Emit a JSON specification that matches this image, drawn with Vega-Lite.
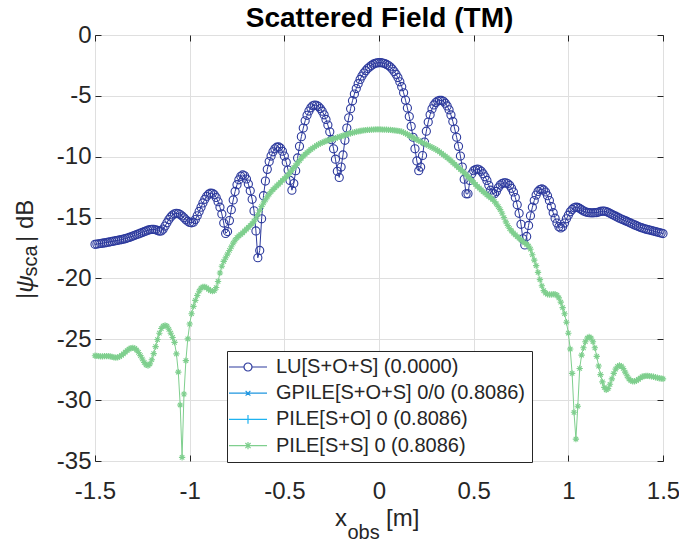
{
  "$schema": "https://vega.github.io/schema/vega-lite/v6.json",
  "autosize": {"type": "none"},
  "padding": {"left": 95, "top": 35, "right": 16, "bottom": 81},
  "width": 568,
  "height": 426,
  "background": "white",
  "config": {
    "view": {"stroke": "#262626", "strokeWidth": 1},
    "font": "Liberation Sans",
    "axis": {"labelFont": "Liberation Sans", "labelColor": "#262626", "labelFontSize": 24, "titleFont": "Liberation Sans", "titleColor": "#262626", "titleFontSize": 24, "titleFontWeight": "normal", "tickColor": "#262626", "gridColor": "#dfdfdf", "gridWidth": 1, "domain": false, "labelFlush": false, "labelOverlap": false}
  },
  "datasets": {
    "lu": [
{"x":-1.5,"y":-17.2},{"x":-1.49,"y":-17.18},{"x":-1.48,"y":-17.15},{"x":-1.47,"y":-17.13},{"x":-1.46,"y":-17.1},{"x":-1.45,"y":-17.08},{"x":-1.44,"y":-17.05},{"x":-1.43,"y":-17.02},{"x":-1.42,"y":-16.99},{"x":-1.41,"y":-16.96},
{"x":-1.4,"y":-16.93},{"x":-1.39,"y":-16.9},{"x":-1.38,"y":-16.87},{"x":-1.37,"y":-16.84},{"x":-1.36,"y":-16.81},{"x":-1.35,"y":-16.77},{"x":-1.34,"y":-16.73},{"x":-1.33,"y":-16.68},{"x":-1.32,"y":-16.63},{"x":-1.31,"y":-16.58},
{"x":-1.3,"y":-16.52},{"x":-1.29,"y":-16.46},{"x":-1.28,"y":-16.4},{"x":-1.27,"y":-16.34},{"x":-1.26,"y":-16.28},{"x":-1.25,"y":-16.22},{"x":-1.24,"y":-16.16},{"x":-1.23,"y":-16.1},{"x":-1.22,"y":-16.04},{"x":-1.21,"y":-15.99},
{"x":-1.2,"y":-15.97},{"x":-1.19,"y":-15.97},{"x":-1.18,"y":-16.0},{"x":-1.17,"y":-16.06},{"x":-1.16,"y":-16.12},{"x":-1.15,"y":-16.1},{"x":-1.14,"y":-15.95},{"x":-1.13,"y":-15.7},{"x":-1.12,"y":-15.42},{"x":-1.11,"y":-15.16},
{"x":-1.1,"y":-14.95},{"x":-1.09,"y":-14.79},{"x":-1.08,"y":-14.69},{"x":-1.07,"y":-14.65},{"x":-1.06,"y":-14.67},{"x":-1.05,"y":-14.75},{"x":-1.04,"y":-14.87},{"x":-1.03,"y":-15.02},{"x":-1.02,"y":-15.18},{"x":-1.01,"y":-15.31},
{"x":-1.0,"y":-15.4},{"x":-0.99,"y":-15.43},{"x":-0.98,"y":-15.38},{"x":-0.97,"y":-15.16},{"x":-0.96,"y":-14.85},{"x":-0.95,"y":-14.5},{"x":-0.94,"y":-14.15},{"x":-0.93,"y":-13.8},{"x":-0.92,"y":-13.5},{"x":-0.91,"y":-13.25},
{"x":-0.9,"y":-13.08},{"x":-0.89,"y":-13.0},{"x":-0.88,"y":-13.01},{"x":-0.87,"y":-13.12},{"x":-0.86,"y":-13.35},{"x":-0.85,"y":-13.7},{"x":-0.84,"y":-14.15},{"x":-0.83,"y":-14.7},{"x":-0.82,"y":-15.45},{"x":-0.81,"y":-16.3},
{"x":-0.8,"y":-16.15},{"x":-0.79,"y":-15.25},{"x":-0.78,"y":-14.35},{"x":-0.77,"y":-13.55},{"x":-0.76,"y":-12.85},{"x":-0.75,"y":-12.3},{"x":-0.74,"y":-11.9},{"x":-0.73,"y":-11.61},{"x":-0.72,"y":-11.5},{"x":-0.71,"y":-11.57},
{"x":-0.7,"y":-11.83},{"x":-0.69,"y":-12.25},{"x":-0.68,"y":-12.8},{"x":-0.67,"y":-13.5},{"x":-0.66,"y":-14.45},{"x":-0.65,"y":-16.1},{"x":-0.64,"y":-18.3},{"x":-0.63,"y":-17.7},{"x":-0.62,"y":-15.1},{"x":-0.61,"y":-13.2},
{"x":-0.6,"y":-12.0},{"x":-0.59,"y":-11.04},{"x":-0.58,"y":-10.4},{"x":-0.57,"y":-9.95},{"x":-0.56,"y":-9.6},{"x":-0.55,"y":-9.35},{"x":-0.54,"y":-9.22},{"x":-0.53,"y":-9.2},{"x":-0.52,"y":-9.3},{"x":-0.51,"y":-9.55},
{"x":-0.5,"y":-9.95},{"x":-0.49,"y":-10.45},{"x":-0.48,"y":-11.1},{"x":-0.47,"y":-11.95},{"x":-0.46,"y":-12.75},{"x":-0.45,"y":-12.2},{"x":-0.44,"y":-11.15},{"x":-0.43,"y":-10.1},{"x":-0.42,"y":-9.15},{"x":-0.41,"y":-8.35},
{"x":-0.4,"y":-7.65},{"x":-0.39,"y":-7.05},{"x":-0.38,"y":-6.6},{"x":-0.37,"y":-6.25},{"x":-0.36,"y":-5.98},{"x":-0.35,"y":-5.82},{"x":-0.34,"y":-5.76},{"x":-0.33,"y":-5.78},{"x":-0.32,"y":-5.88},{"x":-0.31,"y":-6.04},
{"x":-0.3,"y":-6.26},{"x":-0.29,"y":-6.56},{"x":-0.28,"y":-6.94},{"x":-0.27,"y":-7.4},{"x":-0.26,"y":-7.95},{"x":-0.25,"y":-8.6},{"x":-0.24,"y":-9.35},{"x":-0.23,"y":-10.2},{"x":-0.22,"y":-11.2},{"x":-0.21,"y":-11.7},
{"x":-0.2,"y":-10.85},{"x":-0.19,"y":-9.85},{"x":-0.18,"y":-8.65},{"x":-0.17,"y":-7.65},{"x":-0.16,"y":-6.8},{"x":-0.15,"y":-6.05},{"x":-0.14,"y":-5.4},{"x":-0.13,"y":-4.85},{"x":-0.12,"y":-4.4},{"x":-0.11,"y":-4.0},
{"x":-0.1,"y":-3.65},{"x":-0.09,"y":-3.37},{"x":-0.08,"y":-3.13},{"x":-0.07,"y":-2.93},{"x":-0.06,"y":-2.76},{"x":-0.05,"y":-2.62},{"x":-0.04,"y":-2.5},{"x":-0.03,"y":-2.4},{"x":-0.02,"y":-2.33},{"x":-0.01,"y":-2.29},
{"x":0.0,"y":-2.27},{"x":0.01,"y":-2.27},{"x":0.02,"y":-2.3},{"x":0.03,"y":-2.35},{"x":0.04,"y":-2.42},{"x":0.05,"y":-2.51},{"x":0.06,"y":-2.63},{"x":0.07,"y":-2.8},{"x":0.08,"y":-3.0},{"x":0.09,"y":-3.23},
{"x":0.1,"y":-3.5},{"x":0.11,"y":-3.85},{"x":0.12,"y":-4.25},{"x":0.13,"y":-4.75},{"x":0.14,"y":-5.35},{"x":0.15,"y":-6.0},{"x":0.16,"y":-6.7},{"x":0.17,"y":-7.5},{"x":0.18,"y":-8.4},{"x":0.19,"y":-9.35},
{"x":0.2,"y":-10.35},{"x":0.21,"y":-11.15},{"x":0.22,"y":-10.85},{"x":0.23,"y":-9.9},{"x":0.24,"y":-8.8},{"x":0.25,"y":-7.9},{"x":0.26,"y":-7.15},{"x":0.27,"y":-6.55},{"x":0.28,"y":-6.07},{"x":0.29,"y":-5.75},
{"x":0.3,"y":-5.55},{"x":0.31,"y":-5.43},{"x":0.32,"y":-5.38},{"x":0.33,"y":-5.38},{"x":0.34,"y":-5.45},{"x":0.35,"y":-5.6},{"x":0.36,"y":-5.83},{"x":0.37,"y":-6.15},{"x":0.38,"y":-6.57},{"x":0.39,"y":-7.1},
{"x":0.4,"y":-7.73},{"x":0.41,"y":-8.4},{"x":0.42,"y":-9.15},{"x":0.43,"y":-9.95},{"x":0.44,"y":-10.85},{"x":0.45,"y":-11.85},{"x":0.46,"y":-13.05},{"x":0.47,"y":-13.05},{"x":0.48,"y":-11.95},{"x":0.49,"y":-11.4},
{"x":0.5,"y":-11.15},{"x":0.51,"y":-11.05},{"x":0.52,"y":-11.02},{"x":0.53,"y":-11.07},{"x":0.54,"y":-11.2},{"x":0.55,"y":-11.4},{"x":0.56,"y":-11.65},{"x":0.57,"y":-11.95},{"x":0.58,"y":-12.35},{"x":0.59,"y":-12.75},
{"x":0.6,"y":-13.0},{"x":0.61,"y":-13.05},{"x":0.62,"y":-12.85},{"x":0.63,"y":-12.55},{"x":0.64,"y":-12.33},{"x":0.65,"y":-12.2},{"x":0.66,"y":-12.15},{"x":0.67,"y":-12.15},{"x":0.68,"y":-12.2},{"x":0.69,"y":-12.35},
{"x":0.7,"y":-12.6},{"x":0.71,"y":-12.9},{"x":0.72,"y":-13.35},{"x":0.73,"y":-13.95},{"x":0.74,"y":-14.65},{"x":0.75,"y":-15.55},{"x":0.76,"y":-16.75},{"x":0.77,"y":-17.25},{"x":0.78,"y":-16.55},{"x":0.79,"y":-15.65},
{"x":0.8,"y":-14.85},{"x":0.81,"y":-14.15},{"x":0.82,"y":-13.6},{"x":0.83,"y":-13.15},{"x":0.84,"y":-12.85},{"x":0.85,"y":-12.7},{"x":0.86,"y":-12.65},{"x":0.87,"y":-12.73},{"x":0.88,"y":-12.9},{"x":0.89,"y":-13.2},
{"x":0.9,"y":-13.6},{"x":0.91,"y":-14.1},{"x":0.92,"y":-14.6},{"x":0.93,"y":-15.05},{"x":0.94,"y":-15.45},{"x":0.95,"y":-15.75},{"x":0.96,"y":-15.85},{"x":0.97,"y":-15.75},{"x":0.98,"y":-15.45},{"x":0.99,"y":-15.1},
{"x":1.0,"y":-14.8},{"x":1.01,"y":-14.53},{"x":1.02,"y":-14.33},{"x":1.03,"y":-14.2},{"x":1.04,"y":-14.15},{"x":1.05,"y":-14.17},{"x":1.06,"y":-14.25},{"x":1.07,"y":-14.35},{"x":1.08,"y":-14.45},{"x":1.09,"y":-14.53},
{"x":1.1,"y":-14.57},{"x":1.11,"y":-14.6},{"x":1.12,"y":-14.61},{"x":1.13,"y":-14.61},{"x":1.14,"y":-14.6},{"x":1.15,"y":-14.59},{"x":1.16,"y":-14.55},{"x":1.17,"y":-14.5},{"x":1.18,"y":-14.47},{"x":1.19,"y":-14.47},
{"x":1.2,"y":-14.51},{"x":1.21,"y":-14.57},{"x":1.22,"y":-14.65},{"x":1.23,"y":-14.73},{"x":1.24,"y":-14.81},{"x":1.25,"y":-14.89},{"x":1.26,"y":-14.97},{"x":1.27,"y":-15.05},{"x":1.28,"y":-15.12},{"x":1.29,"y":-15.18},
{"x":1.3,"y":-15.25},{"x":1.31,"y":-15.32},{"x":1.32,"y":-15.39},{"x":1.33,"y":-15.46},{"x":1.34,"y":-15.53},{"x":1.35,"y":-15.6},{"x":1.36,"y":-15.67},{"x":1.37,"y":-15.74},{"x":1.38,"y":-15.8},{"x":1.39,"y":-15.85},
{"x":1.4,"y":-15.9},{"x":1.41,"y":-15.95},{"x":1.42,"y":-15.99},{"x":1.43,"y":-16.03},{"x":1.44,"y":-16.07},{"x":1.45,"y":-16.11},{"x":1.46,"y":-16.15},{"x":1.47,"y":-16.19},{"x":1.48,"y":-16.23},{"x":1.49,"y":-16.27},
{"x":1.5,"y":-16.31}
    ],
    "ss": [
{"x":-1.5,"y":-26.35},{"x":-1.49,"y":-26.36},{"x":-1.48,"y":-26.38},{"x":-1.47,"y":-26.4},{"x":-1.46,"y":-26.4},{"x":-1.45,"y":-26.39},{"x":-1.44,"y":-26.38},{"x":-1.43,"y":-26.38},{"x":-1.42,"y":-26.4},{"x":-1.41,"y":-26.44},
{"x":-1.4,"y":-26.48},{"x":-1.39,"y":-26.5},{"x":-1.38,"y":-26.48},{"x":-1.37,"y":-26.42},{"x":-1.36,"y":-26.32},{"x":-1.35,"y":-26.2},{"x":-1.34,"y":-26.06},{"x":-1.33,"y":-25.92},{"x":-1.32,"y":-25.8},{"x":-1.31,"y":-25.72},
{"x":-1.3,"y":-25.7},{"x":-1.29,"y":-25.75},{"x":-1.28,"y":-25.88},{"x":-1.27,"y":-26.08},{"x":-1.26,"y":-26.34},{"x":-1.25,"y":-26.62},{"x":-1.24,"y":-26.9},{"x":-1.23,"y":-27.1},{"x":-1.22,"y":-27.16},{"x":-1.21,"y":-27.02},
{"x":-1.2,"y":-26.68},{"x":-1.19,"y":-26.18},{"x":-1.18,"y":-25.6},{"x":-1.17,"y":-25.02},{"x":-1.16,"y":-24.5},{"x":-1.15,"y":-24.12},{"x":-1.14,"y":-23.92},{"x":-1.13,"y":-23.85},{"x":-1.12,"y":-23.92},{"x":-1.11,"y":-24.18},
{"x":-1.1,"y":-24.5},{"x":-1.09,"y":-24.85},{"x":-1.08,"y":-25.25},{"x":-1.07,"y":-26.2},{"x":-1.06,"y":-27.7},{"x":-1.05,"y":-30.4},{"x":-1.04,"y":-34.7},{"x":-1.03,"y":-29.5},{"x":-1.02,"y":-26.75},{"x":-1.01,"y":-24.97},
{"x":-1.0,"y":-23.75},{"x":-0.99,"y":-22.9},{"x":-0.98,"y":-22.3},{"x":-0.97,"y":-21.8},{"x":-0.96,"y":-21.4},{"x":-0.95,"y":-21.05},{"x":-0.94,"y":-20.8},{"x":-0.93,"y":-20.7},{"x":-0.92,"y":-20.7},{"x":-0.91,"y":-20.78},
{"x":-0.9,"y":-20.9},{"x":-0.89,"y":-21.0},{"x":-0.88,"y":-21.05},{"x":-0.87,"y":-21.0},{"x":-0.86,"y":-20.75},{"x":-0.85,"y":-20.25},{"x":-0.84,"y":-19.55},{"x":-0.83,"y":-19.0},{"x":-0.82,"y":-18.6},{"x":-0.81,"y":-18.3},
{"x":-0.8,"y":-18.0},{"x":-0.79,"y":-17.7},{"x":-0.78,"y":-17.4},{"x":-0.77,"y":-17.1},{"x":-0.76,"y":-16.85},{"x":-0.75,"y":-16.65},{"x":-0.74,"y":-16.5},{"x":-0.73,"y":-16.38},{"x":-0.72,"y":-16.25},{"x":-0.71,"y":-16.1},
{"x":-0.7,"y":-15.95},{"x":-0.69,"y":-15.8},{"x":-0.68,"y":-15.65},{"x":-0.67,"y":-15.5},{"x":-0.66,"y":-15.3},{"x":-0.65,"y":-15.05},{"x":-0.64,"y":-14.75},{"x":-0.63,"y":-14.42},{"x":-0.62,"y":-14.08},{"x":-0.61,"y":-13.8},
{"x":-0.6,"y":-13.55},{"x":-0.59,"y":-13.3},{"x":-0.58,"y":-13.08},{"x":-0.57,"y":-12.88},{"x":-0.56,"y":-12.7},{"x":-0.55,"y":-12.55},{"x":-0.54,"y":-12.4},{"x":-0.53,"y":-12.25},{"x":-0.52,"y":-12.1},{"x":-0.51,"y":-11.95},
{"x":-0.5,"y":-11.8},{"x":-0.49,"y":-11.65},{"x":-0.48,"y":-11.48},{"x":-0.47,"y":-11.3},{"x":-0.46,"y":-11.1},{"x":-0.45,"y":-10.9},{"x":-0.44,"y":-10.72},{"x":-0.43,"y":-10.52},{"x":-0.42,"y":-10.32},{"x":-0.41,"y":-10.12},
{"x":-0.4,"y":-9.95},{"x":-0.39,"y":-9.8},{"x":-0.38,"y":-9.66},{"x":-0.37,"y":-9.53},{"x":-0.36,"y":-9.4},{"x":-0.35,"y":-9.29},{"x":-0.34,"y":-9.18},{"x":-0.33,"y":-9.08},{"x":-0.32,"y":-8.99},{"x":-0.31,"y":-8.91},
{"x":-0.3,"y":-8.84},{"x":-0.29,"y":-8.77},{"x":-0.28,"y":-8.71},{"x":-0.27,"y":-8.66},{"x":-0.26,"y":-8.61},{"x":-0.25,"y":-8.56},{"x":-0.24,"y":-8.52},{"x":-0.23,"y":-8.47},{"x":-0.22,"y":-8.42},{"x":-0.21,"y":-8.37},
{"x":-0.2,"y":-8.32},{"x":-0.19,"y":-8.27},{"x":-0.18,"y":-8.22},{"x":-0.17,"y":-8.17},{"x":-0.16,"y":-8.12},{"x":-0.15,"y":-8.07},{"x":-0.14,"y":-8.03},{"x":-0.13,"y":-7.99},{"x":-0.12,"y":-7.95},{"x":-0.11,"y":-7.92},
{"x":-0.1,"y":-7.89},{"x":-0.09,"y":-7.86},{"x":-0.08,"y":-7.84},{"x":-0.07,"y":-7.82},{"x":-0.06,"y":-7.8},{"x":-0.05,"y":-7.79},{"x":-0.04,"y":-7.78},{"x":-0.03,"y":-7.77},{"x":-0.02,"y":-7.76},{"x":-0.01,"y":-7.76},
{"x":0.0,"y":-7.76},{"x":0.01,"y":-7.76},{"x":0.02,"y":-7.77},{"x":0.03,"y":-7.77},{"x":0.04,"y":-7.78},{"x":0.05,"y":-7.79},{"x":0.06,"y":-7.8},{"x":0.07,"y":-7.81},{"x":0.08,"y":-7.83},{"x":0.09,"y":-7.85},
{"x":0.1,"y":-7.87},{"x":0.11,"y":-7.9},{"x":0.12,"y":-7.95},{"x":0.13,"y":-8.01},{"x":0.14,"y":-8.08},{"x":0.15,"y":-8.17},{"x":0.16,"y":-8.26},{"x":0.17,"y":-8.35},{"x":0.18,"y":-8.44},{"x":0.19,"y":-8.52},
{"x":0.2,"y":-8.6},{"x":0.21,"y":-8.68},{"x":0.22,"y":-8.76},{"x":0.23,"y":-8.84},{"x":0.24,"y":-8.92},{"x":0.25,"y":-9.0},{"x":0.26,"y":-9.08},{"x":0.27,"y":-9.16},{"x":0.28,"y":-9.24},{"x":0.29,"y":-9.32},
{"x":0.3,"y":-9.4},{"x":0.31,"y":-9.5},{"x":0.32,"y":-9.6},{"x":0.33,"y":-9.72},{"x":0.34,"y":-9.84},{"x":0.35,"y":-9.96},{"x":0.36,"y":-10.08},{"x":0.37,"y":-10.2},{"x":0.38,"y":-10.34},{"x":0.39,"y":-10.48},
{"x":0.4,"y":-10.62},{"x":0.41,"y":-10.76},{"x":0.42,"y":-10.9},{"x":0.43,"y":-11.04},{"x":0.44,"y":-11.18},{"x":0.45,"y":-11.32},{"x":0.46,"y":-11.48},{"x":0.47,"y":-11.64},{"x":0.48,"y":-11.8},{"x":0.49,"y":-11.96},
{"x":0.5,"y":-12.12},{"x":0.51,"y":-12.28},{"x":0.52,"y":-12.44},{"x":0.53,"y":-12.58},{"x":0.54,"y":-12.72},{"x":0.55,"y":-12.86},{"x":0.56,"y":-13.0},{"x":0.57,"y":-13.13},{"x":0.58,"y":-13.26},{"x":0.59,"y":-13.38},
{"x":0.6,"y":-13.5},{"x":0.61,"y":-13.68},{"x":0.62,"y":-13.88},{"x":0.63,"y":-14.1},{"x":0.64,"y":-14.35},{"x":0.65,"y":-14.65},{"x":0.66,"y":-15.0},{"x":0.67,"y":-15.35},{"x":0.68,"y":-15.65},{"x":0.69,"y":-15.9},
{"x":0.7,"y":-16.1},{"x":0.71,"y":-16.28},{"x":0.72,"y":-16.42},{"x":0.73,"y":-16.56},{"x":0.74,"y":-16.7},{"x":0.75,"y":-16.84},{"x":0.76,"y":-16.96},{"x":0.77,"y":-17.08},{"x":0.78,"y":-17.2},{"x":0.79,"y":-17.35},
{"x":0.8,"y":-17.6},{"x":0.81,"y":-18.05},{"x":0.82,"y":-18.5},{"x":0.83,"y":-18.95},{"x":0.84,"y":-19.5},{"x":0.85,"y":-20.1},{"x":0.86,"y":-20.6},{"x":0.87,"y":-21.0},{"x":0.88,"y":-21.2},{"x":0.89,"y":-21.3},
{"x":0.9,"y":-21.32},{"x":0.91,"y":-21.32},{"x":0.92,"y":-21.3},{"x":0.93,"y":-21.3},{"x":0.94,"y":-21.38},{"x":0.95,"y":-21.6},{"x":0.96,"y":-21.95},{"x":0.97,"y":-22.4},{"x":0.98,"y":-22.9},{"x":0.99,"y":-23.6},
{"x":1.0,"y":-24.5},{"x":1.01,"y":-25.8},{"x":1.02,"y":-27.8},{"x":1.03,"y":-31.0},{"x":1.04,"y":-33.2},{"x":1.05,"y":-30.5},{"x":1.06,"y":-27.4},{"x":1.07,"y":-26.3},{"x":1.08,"y":-25.7},{"x":1.09,"y":-25.2},
{"x":1.1,"y":-24.9},{"x":1.11,"y":-24.8},{"x":1.12,"y":-24.9},{"x":1.13,"y":-25.2},{"x":1.14,"y":-25.7},{"x":1.15,"y":-26.4},{"x":1.16,"y":-27.2},{"x":1.17,"y":-27.9},{"x":1.18,"y":-28.5},{"x":1.19,"y":-28.95},
{"x":1.2,"y":-29.15},{"x":1.21,"y":-29.05},{"x":1.22,"y":-28.7},{"x":1.23,"y":-28.25},{"x":1.24,"y":-27.8},{"x":1.25,"y":-27.45},{"x":1.26,"y":-27.22},{"x":1.27,"y":-27.15},{"x":1.28,"y":-27.2},{"x":1.29,"y":-27.4},
{"x":1.3,"y":-27.7},{"x":1.31,"y":-28.0},{"x":1.32,"y":-28.25},{"x":1.33,"y":-28.4},{"x":1.34,"y":-28.45},{"x":1.35,"y":-28.45},{"x":1.36,"y":-28.4},{"x":1.37,"y":-28.3},{"x":1.38,"y":-28.18},{"x":1.39,"y":-28.08},
{"x":1.4,"y":-28.02},{"x":1.41,"y":-28.0},{"x":1.42,"y":-28.0},{"x":1.43,"y":-28.02},{"x":1.44,"y":-28.05},{"x":1.45,"y":-28.08},{"x":1.46,"y":-28.12},{"x":1.47,"y":-28.16},{"x":1.48,"y":-28.2},{"x":1.49,"y":-28.22},
{"x":1.5,"y":-28.25}
    ]
  },
  "resolve": {"axis": {"x": "independent", "y": "independent"}},
  "layer": [
    {
      "data": {"name": "lu"},
      "mark": {"type": "line", "color": "#2d3a9d", "strokeWidth": 1},
      "encoding": {
        "x": {"field": "x", "type": "quantitative", "scale": {"domain": [-1.5, 1.5], "nice": false, "zero": false},
          "axis": {"orient": "bottom", "values": [-1.5, -1, -0.5, 0, 0.5, 1, 1.5], "labelExpr": "'' + datum.value", "labels": true, "labelPadding": 24, "ticks": true, "tickSize": -6, "grid": true, "title": "x", "titleX": 239.5, "titleY": 64, "titleAlign": "left", "titleBaseline": "alphabetic", "titleAngle": 0}},
        "y": {"field": "y", "type": "quantitative", "scale": {"domain": [-35, 0], "nice": false, "zero": false},
          "axis": {"orient": "left", "values": [-35, -30, -25, -20, -15, -10, -5, 0], "labelExpr": "'' + datum.value", "labels": true, "labelPadding": 10, "ticks": true, "tickSize": -6, "grid": true, "title": "|", "titleX": -63, "titleY": 263.5, "titleAlign": "left", "titleBaseline": "alphabetic", "titleAngle": 270}}
      }
    },
    {
      "data": {"name": "lu"},
      "mark": {"type": "point", "shape": "circle", "filled": false, "size": 66, "strokeWidth": 1.1, "color": "#2d3a9d", "opacity": 1},
      "encoding": {
        "x": {"field": "x", "type": "quantitative", "axis": {"orient": "bottom", "labels": false, "ticks": false, "grid": false, "domain": false, "title": "obs", "titleFontSize": 20, "titleX": 252, "titleY": 77.3, "titleAlign": "left", "titleBaseline": "alphabetic", "titleAngle": 0}},
        "y": {"field": "y", "type": "quantitative", "axis": {"orient": "left", "labels": false, "ticks": false, "grid": false, "domain": false, "title": "ψ", "titleFontStyle": "italic", "titleX": -63, "titleY": 257.3, "titleAlign": "left", "titleBaseline": "alphabetic", "titleAngle": 270}}
      }
    },
    {
      "data": {"name": "ss"},
      "mark": {"type": "line", "color": "#7fcf8e", "strokeWidth": 1},
      "encoding": {
        "x": {"field": "x", "type": "quantitative", "axis": {"orient": "bottom", "labels": false, "ticks": false, "grid": false, "domain": false, "title": "[m]", "titleX": 290.6, "titleY": 64, "titleAlign": "left", "titleBaseline": "alphabetic", "titleAngle": 0}},
        "y": {"field": "y", "type": "quantitative", "axis": {"orient": "left", "labels": false, "ticks": false, "grid": false, "domain": false, "title": "sca", "titleFontSize": 20, "titleX": -59, "titleY": 241, "titleAlign": "left", "titleBaseline": "alphabetic", "titleAngle": 270}}
      }
    },
    {
      "data": {"name": "ss"},
      "mark": {"type": "point", "shape": "M-1,0H1M0,-1V1M-0.7,-0.7L0.7,0.7M-0.7,0.7L0.7,-0.7", "filled": false, "size": 40, "strokeWidth": 1.1, "color": "#7fcf8e", "opacity": 1},
      "encoding": {
        "x": {"field": "x", "type": "quantitative", "axis": {"orient": "top", "labels": false, "ticks": true, "tickSize": -6, "grid": false, "domain": false, "values": [-1.5, -1, -0.5, 0, 0.5, 1, 1.5], "title": "Scattered Field (TM)", "titleFontSize": 28, "titleFontWeight": "bold", "titleColor": "#000000", "titleX": 284, "titleY": -9, "titleAlign": "center", "titleBaseline": "alphabetic", "titleAngle": 0}},
        "y": {"field": "y", "type": "quantitative", "axis": {"orient": "left", "labels": false, "ticks": false, "grid": false, "domain": false, "title": "| dB", "titleX": -63, "titleY": 206.5, "titleAlign": "left", "titleBaseline": "alphabetic", "titleAngle": 270}}
      }
    },
    {
      "data": {"values": []},
      "mark": {"type": "point", "filled": false, "opacity": 1, "strokeWidth": 1.2},
      "encoding": {
        "x": {"field": "x", "type": "quantitative", "axis": null},
        "y": {"field": "y", "type": "quantitative", "axis": {"orient": "right", "labels": false, "ticks": true, "tickSize": -6, "grid": false, "domain": false, "title": null, "values": [-35, -30, -25, -20, -15, -10, -5, 0]}},
        "color": {"field": "s", "type": "nominal",
          "scale": {"domain": ["LU[S+O+S] (0.0000)", "GPILE[S+O+S] 0/0 (0.8086)", "PILE[S+O] 0 (0.8086)", "PILE[S+S] 0 (0.8086)"], "range": ["#2d3a9d", "#1f96e0", "#1eb2f0", "#7fcf8e"]},
          "legend": {"orient": "none", "legendX": 132, "legendY": 316, "direction": "vertical", "title": null, "padding": 6, "strokeColor": "#262626", "fillColor": "white", "labelFont": "Liberation Sans", "labelFontSize": 20, "labelColor": "#262626", "labelLimit": 0, "symbolSize": 64, "symbolStrokeWidth": 1.2, "symbolFillColor": "transparent", "symbolOffset": 5, "labelOffset": 18, "rowPadding": 6.2}},
        "shape": {"field": "s", "type": "nominal",
          "scale": {"domain": ["LU[S+O+S] (0.0000)", "GPILE[S+O+S] 0/0 (0.8086)", "PILE[S+O] 0 (0.8086)", "PILE[S+S] 0 (0.8086)"], "range": ["M-4.75,0H-1M1,0H4.75M1,0A1,1,0,1,1,-1,0A1,1,0,1,1,1,0", "M-4.75,0H4.75M-0.6,-0.6L0.6,0.6M-0.6,0.6L0.6,-0.6", "M-4.75,0H4.75M0,-1.1V1.1", "M-4.75,0H4.75M0,-0.9V0.9M-0.65,-0.65L0.65,0.65M-0.65,0.65L0.65,-0.65"]}}
      }
    }
  ]
}
